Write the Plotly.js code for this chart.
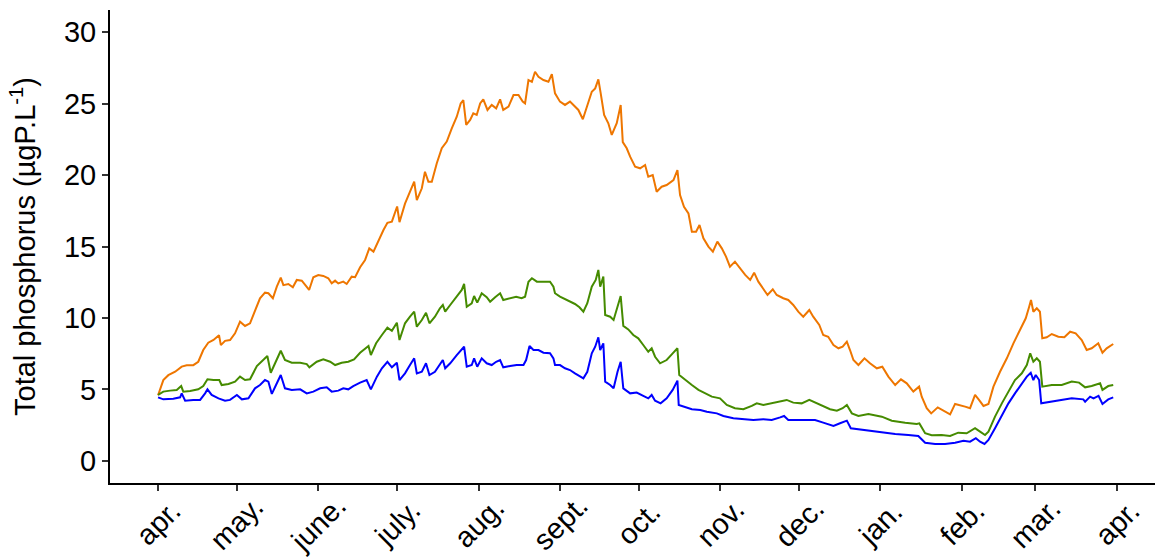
<!DOCTYPE html>
<html>
<head>
<meta charset="utf-8">
<script src="https://cdn.plot.ly/plotly-3.0.1.min.js"></script>
<style>html,body{margin:0;padding:0;background:#fff;}#chart{width:1155px;height:557px;}</style>
</head>
<body>
<div id="chart"></div>
<script>
// Days since 1 April 2018 and total phosphorus values (µgP/L)
const orangeDays = [0,2.0,3.9,6.5,9.0,10.9,13.4,15.3,17.2,19.1,21.1,23.2,23.9,25.5,27.4,29.3,31.2,33.1,35.0,36.9,38.8,40.7,42.0,43.7,45.2,46.7,47.7,49.6,51.3,52.8,54.7,56.3,57.5,59.1,61.0,62.9,64.8,66.1,67.4,68.6,70.5,71.8,73.7,75.0,76.9,78.8,80.4,82.0,83.9,85.8,87.3,89.0,91.0,91.9,94.0,95.9,97.5,98.5,100.4,101.6,102.9,104.2,106.1,108.0,109.9,111.8,113.7,115.2,116.2,117.3,118.8,120.0,121.3,122.6,123.8,125.4,127.0,128.7,130.2,131.4,133.4,135.3,137.2,138.8,139.7,141.0,142.3,143.5,144.8,146.7,148.6,149.9,151.1,153.0,154.9,156.8,158.7,160.0,161.7,163.2,165.1,166.4,167.6,168.5,169.8,171.4,172.7,174.6,176.1,176.9,178.4,179.7,181.6,183.5,185.4,186.6,188.3,189.8,191.7,193.6,196.2,197.7,198.7,200.2,201.9,203.2,204.8,206.1,207.6,209.5,211.2,212.9,214.6,216.2,217.7,219.6,221.5,223.5,225.4,226.9,228.5,230.4,232.0,234.0,235.5,238.0,239.9,241.8,243.7,245.6,247.9,249.4,251.7,253.2,255.1,257.1,259.0,260.6,262.2,263.4,264.7,266.6,268.9,271.0,273.6,275.7,278.0,280.6,282.8,285.0,287.5,289.7,290.7,292.6,294.3,296.8,298.9,301.5,303.4,305.3,307.2,309.1,311.0,312.5,314.2,316.1,318.0,320.5,323.1,325.6,328.1,330.3,331.6,332.3,333.2,334.5,335.7,336.6,338.3,340.2,342.7,345.0,347.2,349.3,351.6,353.5,355.4,357.9,359.5,361.1,363.6];
const orangeValues = [4.6,5.66,6.0,6.24,6.6,6.7,6.7,6.94,7.76,8.27,8.46,8.8,8.1,8.4,8.46,8.93,9.74,9.44,9.63,10.56,11.38,11.77,11.73,11.38,12.19,12.82,12.3,12.38,12.15,12.66,12.61,12.24,11.96,12.85,13.0,12.94,12.78,12.42,12.61,12.42,12.54,12.38,12.89,12.85,13.55,14.06,14.87,14.64,15.45,16.15,16.66,16.74,17.8,16.7,18.0,18.83,19.53,18.25,19.07,20.23,19.53,19.53,20.82,21.87,22.34,23.26,24.08,25.01,25.24,23.5,23.85,24.31,24.2,25.01,25.29,24.55,24.9,24.66,25.29,24.55,24.78,25.59,25.59,25.13,25.01,26.64,26.52,27.22,26.87,26.64,26.52,27.06,25.71,25.13,24.9,25.13,24.78,24.55,23.9,24.78,25.82,26.06,26.69,25.71,24.2,23.62,22.8,23.62,24.9,22.3,21.87,21.28,20.58,20.47,20.7,19.88,20.0,18.83,19.18,19.3,19.65,20.35,18.6,17.78,17.32,16.03,16.03,16.5,15.57,14.99,14.64,15.34,14.87,14.29,13.59,13.94,13.48,13.01,12.66,13.17,12.54,12.08,11.61,12.01,11.61,11.38,11.26,10.91,10.44,10.09,10.56,10.09,9.51,8.81,8.69,8.11,7.88,7.99,8.34,7.76,7.06,6.71,7.18,6.83,6.48,6.59,5.9,5.31,5.71,5.43,4.85,5.2,4.5,3.69,3.33,3.75,3.52,3.26,3.99,3.92,3.8,3.69,4.62,4.27,3.85,3.99,5.2,6.24,7.18,8.23,9.16,9.98,10.79,11.26,10.44,10.68,10.44,8.58,8.65,8.88,8.69,8.65,9.04,8.93,8.46,7.76,7.88,8.23,7.57,7.88,8.18];

const greenDays = [0,2.0,4.6,7.1,8.8,9.6,12.2,15.3,17.2,18.8,21.1,23.3,24.2,26.8,29.3,31.2,33.1,35.0,37.6,39.5,41.6,42.9,44.9,46.7,48.3,50.9,54.1,56.6,57.6,60.4,62.9,65.5,67.4,69.9,72.4,74.6,76.9,78.8,80.1,81.0,83.0,85.2,87.3,89.0,90.9,91.9,94.0,95.9,97.5,98.5,100.4,102.0,103.3,105.4,107.3,108.4,109.3,111.2,113.7,115.6,116.5,117.5,119.4,120.3,121.5,123.2,125.1,126.4,128.3,130.2,131.4,134.0,136.3,138.4,139.7,141.0,142.3,144.2,146.7,149.2,150.5,151.1,153.0,154.9,156.8,158.7,160.4,161.9,163.4,165.1,166.6,167.6,168.3,169.5,170.2,172.1,173.4,174.9,176.1,177.1,179.0,180.9,182.8,184.7,186.6,187.9,189.2,191.1,193.6,195.9,197.7,198.4,200.6,203.2,205.7,208.2,210.8,213.9,216.5,219.6,222.8,226.0,227.9,230.4,233.6,236.8,239.3,241.8,245.0,247.9,250.7,253.2,255.8,258.4,260.6,262.2,264.1,266.6,270.4,275.5,279.3,284.4,288.8,289.8,292.0,294.5,298.3,301.5,304.6,307.8,311.0,312.9,314.8,316.1,318.6,321.2,323.7,326.2,328.8,330.7,332.0,333.2,334.5,335.7,336.6,340.2,344.0,347.8,350.6,352.9,355.4,358.6,359.5,361.7,363.6];
const greenValues = [4.62,4.85,4.92,4.97,5.24,4.85,4.9,5.01,5.24,5.71,5.66,5.66,5.31,5.38,5.55,5.9,5.66,5.71,6.64,6.94,7.34,6.17,6.94,7.71,7.06,6.87,6.87,6.78,6.55,6.94,7.11,6.94,6.71,6.87,6.94,7.11,7.57,7.88,8.04,7.41,8.23,8.81,9.32,9.11,9.67,8.46,9.63,10.09,10.44,9.39,9.86,10.37,9.63,10.09,10.68,10.91,10.44,10.91,11.49,11.96,12.38,10.79,11.03,11.54,11.07,11.73,11.45,11.14,11.45,11.73,11.26,11.38,11.49,11.38,11.49,12.54,12.78,12.54,12.54,12.54,12.19,11.73,11.49,11.31,11.14,10.98,10.75,10.44,11.03,12.19,12.66,13.36,12.19,12.89,10.21,10.09,9.86,10.79,11.54,9.45,9.2,8.81,8.58,8.11,7.64,7.88,7.29,6.83,7.06,7.53,7.88,6.01,5.66,5.31,4.97,4.73,4.5,4.38,3.92,3.69,3.62,3.85,4.03,3.92,4.03,4.15,4.27,4.08,4.03,4.27,4.03,3.8,3.62,3.52,3.69,3.92,3.33,3.15,3.29,3.1,2.82,2.68,2.59,2.63,1.94,1.8,1.82,1.75,1.98,1.94,2.29,2.05,1.82,2.05,3.1,4.03,4.85,5.66,6.13,6.71,7.53,6.94,7.18,6.94,5.2,5.31,5.31,5.55,5.48,5.15,5.24,5.43,4.97,5.24,5.31];

const blueDays = [0,2.0,5.8,8.4,9.0,10.3,13.4,16.0,17.9,18.8,20.4,23.0,25.5,27.4,30.0,31.9,34.4,36.9,38.8,40.7,42.0,43.3,44.9,46.7,48.3,50.9,54.1,56.6,59.1,61.7,64.2,66.1,68.6,70.5,72.4,74.3,76.9,79.4,81.0,83.3,85.2,87.3,89.0,90.9,91.9,94.0,95.9,97.5,98.5,100.4,102.0,103.3,105.4,107.3,108.4,109.3,111.2,113.7,115.6,116.5,117.5,119.4,120.3,121.5,123.2,125.1,127.0,128.7,130.2,131.4,134.0,136.5,139.1,140.1,141.4,142.9,144.8,146.7,149.2,150.5,151.1,153.0,154.9,156.8,158.7,160.4,161.9,163.4,165.1,166.4,167.6,168.3,169.5,170.2,172.1,173.4,174.9,176.1,177.1,179.7,182.2,184.7,186.6,187.9,189.2,191.3,193.6,195.9,197.7,198.2,200.6,203.2,206.4,208.9,212.7,215.2,219.0,222.8,226.6,230.4,233.6,236.8,238.3,239.9,243.1,246.9,250.1,253.2,257.1,259.6,262.2,263.7,266.6,270.4,275.5,280.6,285.6,289.4,292.0,295.8,299.6,303.4,306.6,309.1,311.3,312.9,314.6,316.1,318.6,321.2,323.7,326.2,328.8,330.7,332.2,333.2,334.1,335.4,336.2,340.2,344.0,347.8,352.2,352.9,354.8,356.1,358.0,359.5,361.7,363.6];
const blueValues = [4.45,4.31,4.36,4.45,4.73,4.22,4.27,4.27,4.73,5.01,4.62,4.38,4.22,4.27,4.62,4.31,4.38,5.08,5.31,5.66,5.55,4.69,5.31,6.01,5.08,4.97,5.01,4.73,4.85,5.08,5.15,4.85,4.92,5.08,5.01,5.24,5.48,5.66,5.01,5.9,6.48,6.94,6.55,6.87,5.66,6.13,6.71,7.18,6.13,6.24,6.83,6.01,6.24,6.71,7.06,6.48,6.83,7.41,7.76,7.99,6.59,6.71,7.18,6.59,7.18,6.83,6.71,6.94,7.06,6.55,6.64,6.71,6.71,7.06,8.04,7.76,7.76,7.57,7.53,7.18,6.71,6.71,6.48,6.36,6.13,5.94,5.78,6.24,7.53,7.99,8.65,7.76,8.23,5.55,5.31,5.08,6.24,6.94,5.08,4.73,4.78,4.55,4.38,4.62,4.22,4.03,4.38,4.97,5.62,3.92,3.8,3.62,3.57,3.45,3.33,3.15,2.99,2.92,2.87,2.92,2.87,3.05,3.15,2.87,2.87,2.92,2.87,2.68,2.45,2.64,2.82,2.29,2.22,2.17,2.05,1.89,1.82,1.75,1.28,1.19,1.19,1.28,1.42,1.35,1.59,1.35,1.19,1.47,2.29,3.22,4.03,4.73,5.43,5.9,6.17,5.66,6.01,5.66,4.03,4.15,4.27,4.38,4.31,4.15,4.5,4.38,4.55,3.99,4.31,4.45];

const monthLabels = ["apr.","may.","june.","july.","aug.","sept.","oct.","nov.","dec.","jan.","feb.","mar.","apr."];
const yTicks = [0,5,10,15,20,25,30];

const base = Date.UTC(2018, 3, 1);
const DAY = 86400000;
const toDate = d => base + d * DAY;
const monthTicks = monthLabels.map((_, i) => Date.UTC(2018, 3 + i, 1));

const font = "Liberation Sans, Arial, sans-serif";
const mk = (days, vals, color) => ({
  x: days.map(toDate), y: vals, type: "scatter", mode: "lines",
  line: {color: color, width: 2}, hoverinfo: "skip", showlegend: false
});

const data = [
  mk(orangeDays, orangeValues, "#EE7600"),
  mk(greenDays, greenValues, "#458B00"),
  mk(blueDays, blueValues, "#0000FF")
];

// month labels centred under their ticks, rotated 45° (as in the reference)
const monthAnnotations = monthTicks.map((t, i) => ({
  x: t, xref: "x", y: -0.084, yref: "paper",
  text: monthLabels[i], showarrow: false, textangle: -45,
  xanchor: "center", yanchor: "middle",
  font: {family: font, size: 29, color: "#000"}
}));

const layout = {
  width: 1155, height: 557,
  margin: {l: 110, r: 0, t: 10, b: 74},
  paper_bgcolor: "#fff", plot_bgcolor: "#fff",
  font: {family: font, color: "#000", size: 28},
  annotations: monthAnnotations,
  xaxis: {
    type: "date",
    range: [toDate(-18.3), toDate(379.5)],
    tickmode: "array", tickvals: monthTicks, ticktext: monthLabels,
    showticklabels: false,
    showgrid: false, zeroline: false,
    showline: true, linecolor: "#000", linewidth: 2,
    ticks: "outside", ticklen: 6, tickwidth: 2, tickcolor: "#333"
  },
  yaxis: {
    range: [-1.54, 31.54],
    tickmode: "array", tickvals: yTicks, ticktext: yTicks.map(String),
    showgrid: false, zeroline: false,
    showline: true, linecolor: "#000", linewidth: 2,
    ticks: "outside", ticklen: 6, tickwidth: 2, tickcolor: "#333",
    tickfont: {family: font, size: 29, color: "#000"},
    title: {text: "Total phosphorus (µgP.L<sup>-1</sup>)", font: {family: font, size: 29, color: "#000"}, standoff: 20}
  }
};

Plotly.newPlot("chart", data, layout, {displayModeBar: false, staticPlot: true});
</script>
</body>
</html>
